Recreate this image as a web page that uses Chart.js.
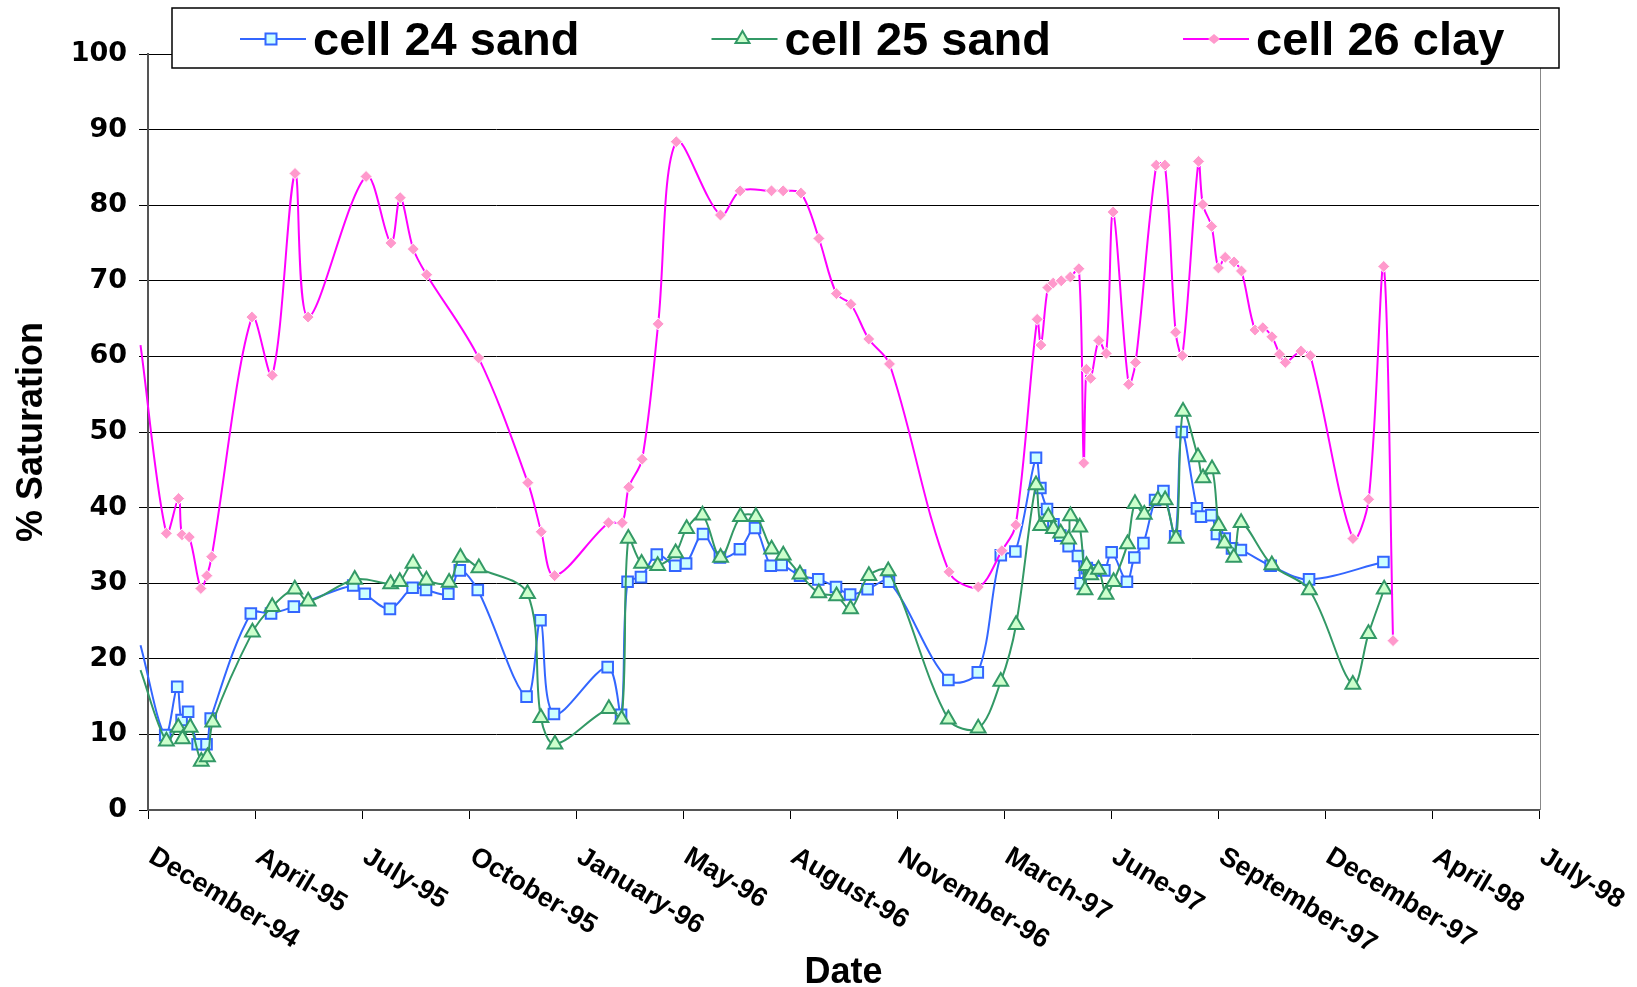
<!DOCTYPE html>
<html>
<head>
<meta charset="utf-8">
<script src="https://cdn.jsdelivr.net/npm/chart.js@4.4.0/dist/chart.umd.min.js"></script>
<style>
  html, body { margin: 0; padding: 0; background: #fff; }
  #wrap { width: 1637px; height: 987px; }
</style>
</head>
<body>
<div id="wrap"><canvas id="satChart" width="1637" height="987"></canvas></div>
<script>
// x values = days after the first date tick (late Dec 1994)
const xTickLabels = ["December-94", "April-95", "July-95", "October-95", "January-96", "May-96",
  "August-96", "November-96", "March-97", "June-97", "September-97", "December-97", "April-98", "July-98"];
const tickStepDays = 100;

const sand24Days = [-7, 16.1, 27.3, 31.4, 37.5, 46.4, 54.7, 58.6, 96.1, 115, 136.3, 191.8, 202.6, 226.1,
  247.3, 259.8, 280.7, 291.4, 308.2, 353.8, 366.8, 379.4, 429.6, 442.1, 448.2, 460.7, 475.5, 492.7, 502.9,
  518.7, 534.5, 553.2, 567.3, 582, 592.2, 609.4, 626.4, 643, 656.2, 672.5, 692.5, 748, 775.5, 797, 810.6,
  829.9, 834, 840.2, 846.2, 852.6, 860.4, 869.1, 871.6, 877.4, 884.4, 893.8, 900.6, 914.9, 921.8, 930.3,
  941.2, 949, 960, 966.2, 980.3, 984.1, 993.8, 999, 1006.3, 1013.1, 1021.4, 1049.2, 1085.1, 1154.6];
const sand24Values = [21.8, 9.9, 16.3, 11.9, 13, 8.7, 8.7, 12.1, 26, 26, 26.9, 29.7, 28.6, 26.6,
  29.4, 29.1, 28.6, 31.7, 29.1, 15, 25.1, 12.7, 18.9, 12.6, 30.2, 30.8, 33.8, 32.3, 32.6,
  36.5, 33.4, 34.5, 37.3, 32.3, 32.4, 31, 30.5, 29.5, 28.5, 29.2, 30.2, 17.2, 18.2, 33.7, 34.2,
  46.6, 42.6, 39.8, 37.8, 36.3, 34.9, 33.6, 30, 32, 31.7, 31.7, 34.1, 30.2, 33.4, 35.3,
  41, 42.2, 36.2, 50, 39.9, 38.8, 39, 36.5, 35.9, 34.6, 34.4, 32.3, 30.5, 32.8];

const sand25Days = [-7, 17.2, 28.3, 32.2, 39.5, 49.8, 55.6, 60.5, 97.6, 116.1, 137.2, 149.7, 193.2, 226.8,
  235.3, 247.7, 260.2, 281.4, 292, 309.2, 354.7, 367.2, 380.3, 430.7, 442.6, 448.9, 461.3, 476.3, 493.1,
  503.4, 518.2, 535.1, 553.7, 568.1, 582.8, 593.7, 609.3, 626.9, 643.5, 656.6, 673.7, 691.8, 748, 775.9,
  797, 811.3, 829.9, 834.3, 841.4, 846.2, 853, 860.3, 862.1, 870.8, 875.7, 877.1, 881.1, 888.3, 895.4,
  902.4, 915.4, 922.4, 931.1, 943.8, 950.6, 960.8, 967.3, 981.3, 986, 994.4, 1000.6, 1006, 1014.7,
  1021.6, 1050.3, 1085.4, 1126, 1140.6, 1155.3];
const sand25Values = [18.5, 9.1, 10.9, 9.4, 10.9, 6.4, 7, 11.6, 23.5, 26.9, 29.2, 27.6, 30.5, 29.9,
  30.2, 32.6, 30.4, 30.1, 33.4, 32, 28.6, 12.2, 8.7, 13.4, 12, 35.9, 32.6, 32.3, 34,
  37.2, 39, 33.4, 38.8, 38.8, 34.5, 33.7, 31.2, 28.7, 28.3, 26.6, 31, 31.6, 12, 10.8,
  17, 24.5, 43, 37.6, 38.8, 37.2, 36.6, 35.8, 38.9, 37.4, 29.1, 32.3, 31.1, 31.8, 28.5,
  30.2, 35.2, 40.5, 39.1, 41, 41, 35.9, 52.7, 46.7, 43.9, 45.1, 37.6, 35.3, 33.4,
  38, 32.4, 29.1, 16.6, 23.3, 29.2];

const clay26Days = [-7, 17.2, 28.6, 31.8, 38.6, 49.4, 55, 59.5, 97.1, 116.1, 137.4, 149.6, 203.8, 227,
  235.7, 247.9, 260.4, 309, 355, 367.5, 380, 430.4, 443.1, 449.3, 461.8, 476.8, 493.7, 535, 553.4,
  582.7, 593.6, 610.2, 627, 643.4, 656.9, 673.6, 693, 748.6, 776, 798, 811, 831, 834.5, 841, 846,
  853.5, 862, 870, 874.5, 877, 881, 888.6, 895.5, 902, 916.5, 923, 942.3, 950.4, 960.4, 966.7, 981.8,
  985.8, 994, 1000.4, 1006.7, 1015, 1021.9, 1034.6, 1041.9, 1050.4, 1057.5, 1062.9, 1077.5, 1086.3,
  1126.1, 1140.8, 1154.9, 1163.6];
const clay26Values = [61.5, 36.6, 41.2, 36.4, 36.1, 29.3, 31, 33.5, 65.2, 57.5, 84.2, 65.2, 83.8, 75,
  81, 74.2, 70.8, 59.8, 43.3, 36.8, 31, 38, 38, 42.7, 46.4, 64.3, 88.4, 78.7, 81.9,
  81.9, 81.9, 81.6, 75.6, 68.3, 66.9, 62.3, 59, 31.5, 29.5, 34.3, 37.7, 64.9, 61.5, 69.1, 69.7,
  70, 70.5, 71.6, 45.9, 58.3, 57.1, 62.1, 60.4, 79.1, 56.3, 59.2, 85.3, 85.3, 63.2, 60.1, 85.8,
  80.1, 77.2, 71.7, 73.1, 72.5, 71.3, 63.5, 63.8, 62.6, 60.3, 59.2, 60.7, 60.1,
  35.9, 41.1, 71.9, 22.4];

function toPoints(days, values) {
  return days.map((d, i) => ({ x: d, y: values[i] }));
}

// no marker for the point that sits left of the first date tick
function markerSize(r) {
  return ctx => (ctx.raw && ctx.raw.x < 0 ? 0 : r);
}

const BOLD = '"Liberation Sans", Arial, sans-serif';

/* extra plot border on the right */
const plotFrame = {
  id: 'plotFrame',
  beforeDatasetsDraw(chart) {
    const { ctx, chartArea: a } = chart;
    ctx.save();
    ctx.strokeStyle = '#888';
    ctx.lineWidth = 1;
    ctx.beginPath();
    ctx.moveTo(a.right + 1.5, a.top);
    ctx.lineTo(a.right + 1.5, a.bottom);
    ctx.stroke();
    ctx.restore();
  }
};

/* slanted date labels (running down to the right) */
const dateLabels = {
  id: 'dateLabels',
  afterDraw(chart) {
    const ctx = chart.ctx;
    const xs = chart.scales.x;
    ctx.save();
    ctx.font = 'bold 27px ' + BOLD;
    ctx.fillStyle = '#000';
    ctx.textAlign = 'left';
    ctx.textBaseline = 'top';
    xTickLabels.forEach((label, i) => {
      const px = xs.getPixelForValue(i * tickStepDays);
      ctx.save();
      ctx.translate(px + 10, xs.top + 33);
      ctx.rotate(31 * Math.PI / 180);
      ctx.fillText(label, 0, 0);
      ctx.restore();
    });
    ctx.restore();
  }
};

function drawMarker(ctx, style, x, y) {
  ctx.beginPath();
  if (style === 'rect') {
    ctx.rect(x - 5.5, y - 5.5, 11, 11);
  } else if (style === 'triangle') {
    ctx.moveTo(x, y - 8);
    ctx.lineTo(x + 7, y + 4);
    ctx.lineTo(x - 7, y + 4);
    ctx.closePath();
  } else {
    ctx.moveTo(x, y - 5);
    ctx.lineTo(x + 6, y);
    ctx.lineTo(x, y + 5);
    ctx.lineTo(x - 6, y);
    ctx.closePath();
  }
}

/* boxed legend over the top of the plot */
const boxLegend = {
  id: 'boxLegend',
  afterDraw(chart) {
    const { ctx, chartArea: a } = chart;
    const left = a.left + 24, right = a.right + 20, top = 8, bottom = a.top + 14;
    ctx.save();
    ctx.fillStyle = '#fff';
    ctx.fillRect(left, top, right - left, bottom - top);
    ctx.strokeStyle = '#000';
    ctx.lineWidth = 1.5;
    ctx.strokeRect(left, top, right - left, bottom - top);
    const cy = (top + bottom) / 2 + 1;
    chart.data.datasets.forEach((ds, i) => {
      const x0 = left + 68 + i * 471.5;
      ctx.strokeStyle = ds.borderColor;
      ctx.lineWidth = 2;
      ctx.beginPath();
      ctx.moveTo(x0, cy);
      ctx.lineTo(x0 + 66, cy);
      ctx.stroke();
      drawMarker(ctx, ds.pointStyle, x0 + 31, cy);
      ctx.fillStyle = ds.pointBackgroundColor;
      ctx.fill();
      if (ds.pointStyle !== 'rectRot') {
        ctx.strokeStyle = ds.pointBorderColor;
        ctx.lineWidth = 2;
        ctx.stroke();
      }
      ctx.fillStyle = '#000';
      ctx.font = 'bold 47px ' + BOLD;
      ctx.textBaseline = 'alphabetic';
      ctx.fillText(ds.label, x0 + 73, cy + 16);
    });
    ctx.restore();
  }
};

new Chart(document.getElementById('satChart'), {
  type: 'line',
  data: {
    datasets: [
      {
        label: 'cell 24 sand',
        data: toPoints(sand24Days, sand24Values),
        borderColor: '#3366FF',
        borderWidth: 2,
        tension: 0.33,
        pointStyle: 'rect',
        pointRadius: markerSize(7.5),
        pointBackgroundColor: '#CCFFFF',
        pointBorderColor: '#3366FF',
        pointBorderWidth: 2,
        clip: false,
        order: 3
      },
      {
        label: 'cell 25 sand',
        data: toPoints(sand25Days, sand25Values),
        borderColor: '#339966',
        borderWidth: 2,
        tension: 0.33,
        pointStyle: 'triangle',
        pointRadius: markerSize(8.5),
        pointBackgroundColor: '#CCFFCC',
        pointBorderColor: '#339966',
        pointBorderWidth: 2,
        clip: false,
        order: 2
      },
      {
        label: 'cell 26 clay',
        data: toPoints(clay26Days, clay26Values),
        borderColor: '#FF00FF',
        borderWidth: 2,
        tension: 0.33,
        pointStyle: 'rectRot',
        pointRadius: markerSize(6),
        pointBackgroundColor: '#FF99CC',
        pointBorderColor: '#FFFFFF',
        pointBorderWidth: 1,
        clip: false,
        order: 1
      }
    ]
  },
  options: {
    responsive: false,
    animation: false,
    devicePixelRatio: 1,
    layout: { padding: { top: 54, right: 98, bottom: 0, left: 0 } },
    plugins: {
      legend: { display: false },
      tooltip: { enabled: false }
    },
    scales: {
      x: {
        type: 'linear',
        min: 0,
        max: 1300,
        afterFit: s => { s.height = 177; },
        ticks: { display: false, stepSize: tickStepDays },
        grid: { drawOnChartArea: false, drawTicks: true, tickLength: 9, color: '#000' },
        border: { color: '#555', width: 2 },
        title: {
          display: true,
          text: 'Date',
          color: '#000',
          font: { family: BOLD, weight: 'bold', size: 36, lineHeight: 0.8 },
          padding: { top: 120, bottom: 0 }
        }
      },
      y: {
        min: 0,
        max: 100,
        afterFit: s => { s.width = 148; },
        ticks: {
          stepSize: 10,
          padding: 12,
          color: '#000',
          font: { family: '"DejaVu Sans", Verdana, sans-serif', weight: 'bold', size: 27 }
        },
        grid: { color: '#000', lineWidth: 1, tickLength: 9 },
        border: { color: '#555', width: 2 },
        title: {
          display: true,
          text: '% Saturation',
          color: '#000',
          font: { family: BOLD, weight: 'bold', size: 36 },
          padding: { top: 10, bottom: 0 }
        }
      }
    }
  },
  plugins: [plotFrame, dateLabels, boxLegend]
});
</script>
</body>
</html>
